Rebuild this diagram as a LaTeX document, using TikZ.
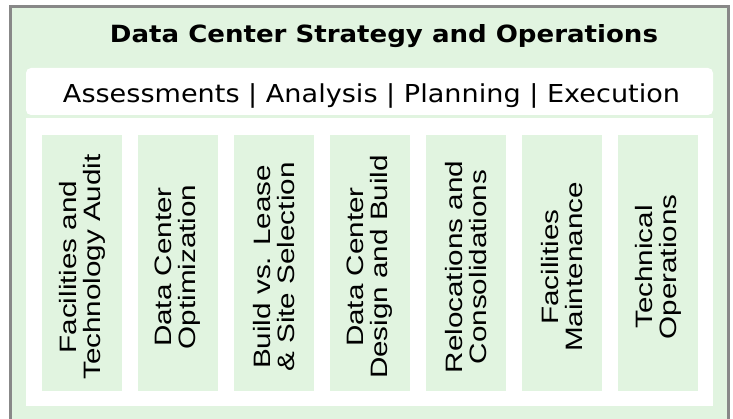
\documentclass[tikz,border=0pt]{standalone}
\usepackage{fontspec}
\usepackage{graphicx}
\newfontfamily\titlefont{DejaVu Sans}
\newfontfamily\colfont[FakeStretch=1.25]{Liberation Sans}
\definecolor{panelgreen}{RGB}{225,244,224}
\definecolor{framegray}{RGB}{136,136,136}
\tikzset{
  frame/.style={draw=framegray, line width=3pt, fill=panelgreen},
  banner/.style={fill=white, rounded corners=5pt},
  column/.style={fill=panelgreen, draw=none, minimum width=80pt, minimum height=256pt, inner sep=0pt},
  coltext/.style={rotate=90, align=center, inner sep=0pt, font=\colfont\fontsize{23.7}{24}\selectfont}
}
\begin{document}
\begin{tikzpicture}[x=1pt,y=-1pt]
\useasboundingbox (0,0) rectangle (733,419);
\begin{scope}
\clip (0,0) rectangle (733,419);
\draw[frame] (10,6.5) rectangle (728.5,430);
\end{scope}
\fill[banner] (26,68) rectangle (713,115);
\fill[white] (26,118) rectangle (713,406);
\node[anchor=base, inner sep=0pt] (title) at (384,42.3)
  {\resizebox{548pt}{\height}{\titlefont\bfseries\fontsize{23.7}{28}\selectfont Data Center Strategy and Operations}};
\node[anchor=base, inner sep=0pt] (sub) at (371.5,102.3)
  {\resizebox{617pt}{\height}{\titlefont\fontsize{24.7}{28}\selectfont Assessments | Analysis | Planning | Execution}};
\foreach \i/\txt in {0/{Facilities and\\Technology Audit},
                     1/{Data Center\\Optimization},
                     2/{Build vs. Lease\\\& Site Selection},
                     3/{Data Center\\Design and Build},
                     4/{Relocations and\\Consolidations},
                     5/{Facilities\\Maintenance},
                     6/{Technical\\Operations}}{
  \node[column] (col\i) at (82+96*\i,263) {};
  \node[coltext] (txt\i) at (82+96*\i,267) {\txt};
}
\end{tikzpicture}
\end{document}
